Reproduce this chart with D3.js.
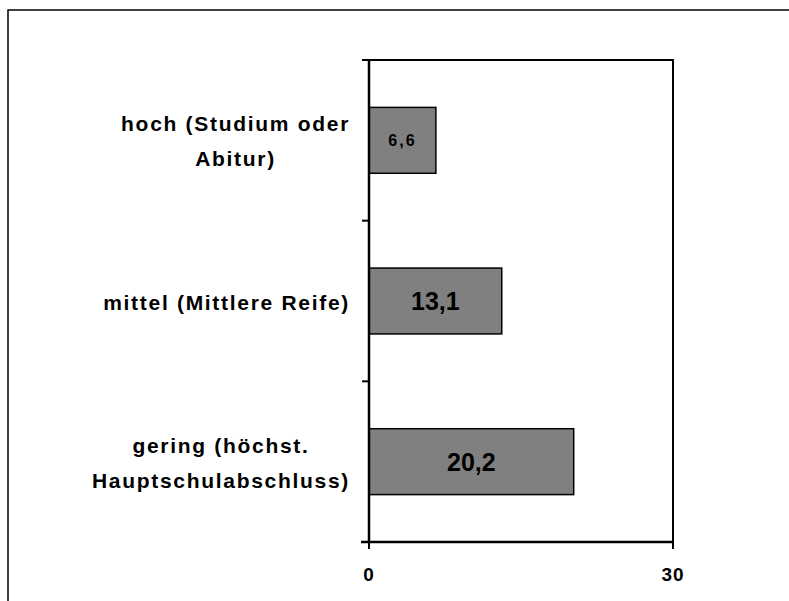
<!DOCTYPE html>
<html>
<head>
<meta charset="utf-8">
<script src="https://cdn.jsdelivr.net/npm/d3@7"></script>
<style>
  body { margin: 0; background: #fff; }
  text { font-family: "Liberation Sans", Arial, sans-serif; font-weight: bold; }
</style>
</head>
<body>
<div id="chart"></div>
<script>
// data
let categories = ['hoch (Studium oder|Abitur)', 'mittel (Mittlere Reife)', 'gering (höchst.|Hauptschulabschluss)'];
let values = [6.6, 13.1, 20.2];
let valueLabels = ['6,6', '13,1', '20,2'];
let xTicks = [0, 30];

let width = 789;
let height = 601;
let margin = {top: 60, right: 116, bottom: 59, left: 369};

let svg = d3.select('#chart').append('svg')
  .attr('width', width)
  .attr('height', height);

// outer frame (runs past the picture on right and bottom)
svg.append('rect')
  .attr('x', 8).attr('y', 10)
  .attr('width', 900).attr('height', 900)
  .attr('fill', 'none')
  .attr('stroke', '#000')
  .attr('stroke-width', 1.5);

let x = d3.scaleLinear()
  .domain([0, 30])
  .range([margin.left, width - margin.right]);

let y = d3.scaleBand()
  .domain(categories)
  .range([margin.top, height - margin.bottom])
  .paddingInner(0.59)
  .paddingOuter(0.295);

let plotTop = margin.top, plotBottom = height - margin.bottom;

// bars
svg.selectAll('rect.bar')
  .data(values)
  .enter().append('rect')
  .attr('class', 'bar')
  .attr('x', x(0))
  .attr('y', (d, i) => y(categories[i]))
  .attr('width', d => x(d) - x(0))
  .attr('height', y.bandwidth())
  .attr('fill', '#808080')
  .attr('stroke', '#000')
  .attr('stroke-width', 1.5);

// value labels
svg.selectAll('text.val')
  .data(values)
  .enter().append('text')
  .attr('class', 'val')
  .attr('x', d => (x(0) + x(d)) / 2)
  .attr('y', (d, i) => y(categories[i]) + y.bandwidth() / 2)
  .attr('dy', '0.36em')
  .attr('text-anchor', 'middle')
  .style('font-size', (d, i) => i === 0 ? '16px' : '25px')
  .style('letter-spacing', (d, i) => i === 0 ? '2px' : '0px')
  .text((d, i) => valueLabels[i]);

// plot frame: top and right lines
svg.append('path')
  .attr('d', `M${x(0)},${plotTop}H${x(30)}V${plotBottom}`)
  .attr('fill', 'none')
  .attr('stroke', '#000')
  .attr('stroke-width', 2);

// axes lines
svg.append('line')
  .attr('x1', x(0)).attr('x2', x(0))
  .attr('y1', plotTop).attr('y2', plotBottom)
  .attr('stroke', '#000').attr('stroke-width', 2.5);
svg.append('line')
  .attr('x1', x(0) - 8).attr('x2', x(30))
  .attr('y1', plotBottom).attr('y2', plotBottom)
  .attr('stroke', '#000').attr('stroke-width', 2.5);

// category boundary ticks
let bounds = d3.range(categories.length).map(i => plotTop + i * y.step());
svg.selectAll('line.ytick')
  .data(bounds)
  .enter().append('line')
  .attr('class', 'ytick')
  .attr('x1', x(0) - 7).attr('x2', x(0))
  .attr('y1', d => d).attr('y2', d => d)
  .attr('stroke', '#000').attr('stroke-width', 2);

// x ticks
svg.selectAll('line.xtick')
  .data(xTicks)
  .enter().append('line')
  .attr('class', 'xtick')
  .attr('x1', d => x(d)).attr('x2', d => x(d))
  .attr('y1', plotBottom).attr('y2', plotBottom + 7)
  .attr('stroke', '#000').attr('stroke-width', 2);

svg.selectAll('text.xlab')
  .data(xTicks)
  .enter().append('text')
  .attr('class', 'xlab')
  .attr('x', d => x(d))
  .attr('y', 581)
  .attr('text-anchor', 'middle')
  .style('font-size', '19px')
  .style('letter-spacing', '1px')
  .text(d => d);

// category labels: block right-aligned to the axis, lines centred in the block
let labelRight = 350;
let lineH = 35;
categories.forEach(c => {
  let lines = c.split('|');
  let g = svg.append('g');
  let cy = y(c) + y.bandwidth() / 2 + 1;
  let texts = lines.map((l, j) => g.append('text')
    .attr('y', cy + (j - (lines.length - 1) / 2) * lineH)
    .attr('dy', '0.36em')
    .attr('text-anchor', 'middle')
    .style('font-size', '21px')
    .style('letter-spacing', '1.7px')
    .text(l));
  let w = d3.max(texts, t => t.node().getComputedTextLength());
  texts.forEach(t => t.attr('x', labelRight - w / 2));
});
</script>
</body>
</html>
